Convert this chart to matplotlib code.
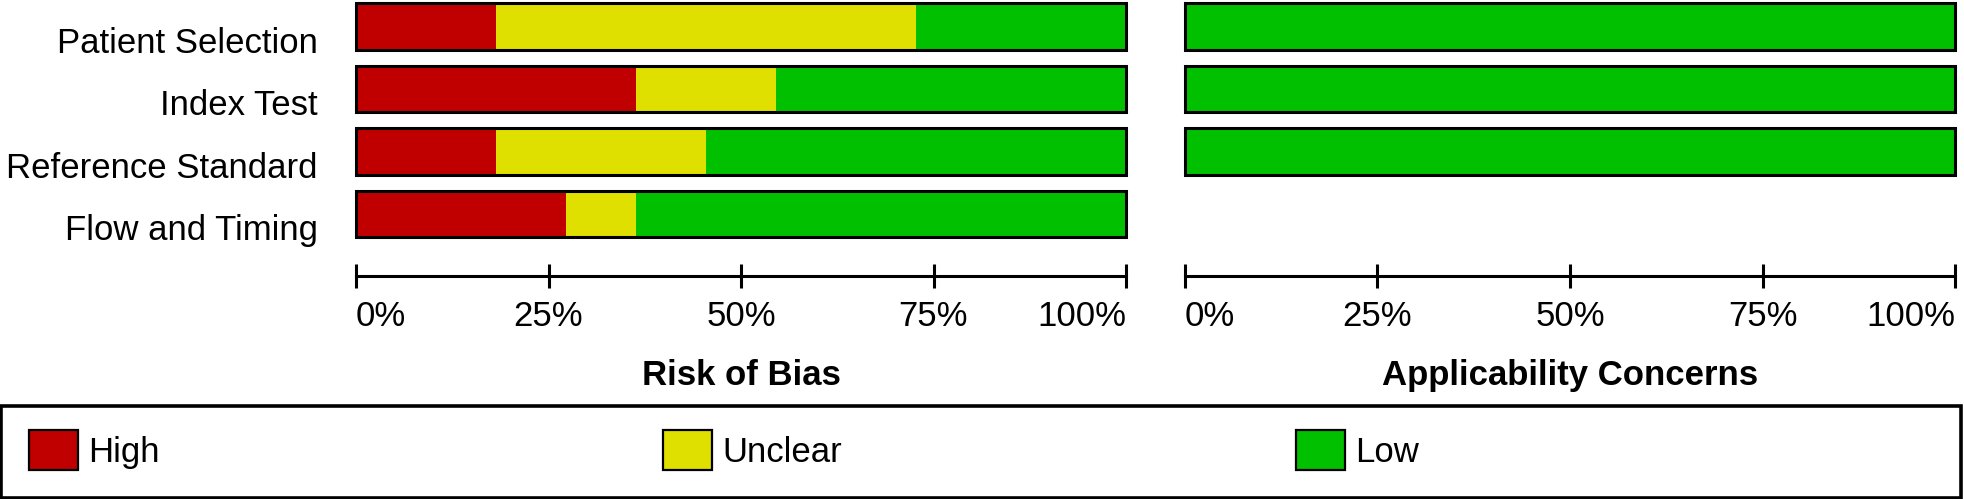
import matplotlib
matplotlib.use("Agg")
from matplotlib import pyplot as plt
from matplotlib.patches import Rectangle

# QUADAS-2 style summary, 11 studies
domains = ["Patient Selection", "Index Test", "Reference Standard", "Flow and Timing"]
n_studies = 11
bias_high = [2, 4, 2, 3]
bias_unclear = [6, 2, 3, 1]
bias_low = [3, 5, 6, 7]
appl_high = [0, 0, 0]
appl_unclear = [0, 0, 0]
appl_low = [11, 11, 11]
tick_vals = [0, 25, 50, 75, 100]
tick_labels = ["0%", "25%", "50%", "75%", "100%"]
levels = ["High", "Unclear", "Low"]
colors = ["#c00000", "#e0e000", "#00c000"]

plt.rcParams["font.family"] = ["Liberation Sans", "DejaVu Sans"]
FS = 25

W, H = 1965, 499
fig = plt.figure(figsize=(W / 100, H / 100), dpi=100)


def px_axes(x0, x1, ytop, ybot):
    return fig.add_axes([x0 / W, 1 - ybot / H, (x1 - x0) / W, (ybot - ytop) / H])


pitch = 62.5
ylo = -26.5 / pitch
yhi = 3 + (276 - 214) / pitch
bar_h = 46.5 / pitch


def draw_panel(ax, high, unclear, low, title, with_labels):
    rows = list(range(len(high)))
    pct = lambda v: [x * 100.0 / n_studies for x in v]
    h, u, l = pct(high), pct(unclear), pct(low)
    left = [0] * len(rows)
    bars = []
    for vals, c in zip([h, u, l], colors):
        b = ax.barh(rows, vals, left=left, height=bar_h, color=c, edgecolor="none", linewidth=0)
        bars.append(b)
        left = [a + b_ for a, b_ in zip(left, vals)]
    ax.barh(rows, left, height=bar_h, facecolor="none", edgecolor="black",
            linewidth=2.2, clip_on=False)
    ax.set_xlim(0, 100)
    ax.set_ylim(yhi, ylo)
    for s in ["top", "left", "right"]:
        ax.spines[s].set_visible(False)
    ax.spines["bottom"].set_linewidth(2.2)
    ax.set_yticks([])
    ax.set_xticks(tick_vals, tick_labels)
    ax.tick_params(axis="x", direction="inout", length=17.3, width=2.2, pad=8.6,
                   labelsize=FS, colors="black")
    labs = ax.get_xticklabels()
    labs[0].set_ha("left")
    labs[-1].set_ha("right")
    if with_labels:
        for i, d in enumerate(domains):
            ax.text(-0.0494, i + 0.42, d, transform=ax.get_yaxis_transform(),
                    ha="right", va="baseline", fontsize=FS)
    x0, x1 = ax.get_position().x0, ax.get_position().x1
    fig.text((x0 + x1) / 2, 1 - 385 / H, title, ha="center", va="baseline",
             fontsize=FS, fontweight="bold")
    return bars


ax1 = px_axes(356, 1126, 0, 276)
ax2 = px_axes(1185, 1955, 0, 276)
bars = draw_panel(ax1, bias_high, bias_unclear, bias_low, "Risk of Bias", True)
draw_panel(ax2, appl_high, appl_unclear, appl_low, "Applicability Concerns", False)

# legend box
fig.patches.append(Rectangle((1.5 / W, 1 - 497.5 / H), 1960 / W, 92 / H,
                             transform=fig.transFigure, facecolor="none",
                             edgecolor="black", linewidth=2.6))

leg_x = [29, 663, 1296]
for b, lab, c, x in zip(bars, levels, colors, leg_x):
    handle = Rectangle((0, 0), 1, 1, facecolor=c, edgecolor="black", linewidth=1.6)
    fig.legend([handle], [lab], loc="center left", bbox_to_anchor=(x / W, 1 - 450 / H),
               frameon=False, fontsize=FS, handlelength=1.41, handleheight=1.41,
               handletextpad=0.3, borderpad=0, borderaxespad=0)

fig.savefig("out.png", dpi=100)
